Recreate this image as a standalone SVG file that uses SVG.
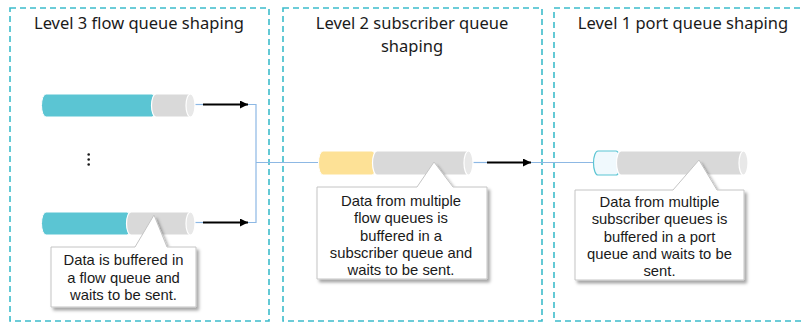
<svg xmlns="http://www.w3.org/2000/svg" width="804" height="322" viewBox="0 0 804 322">
  <style>
    .stage { fill: none; stroke: #3dbccb; stroke-width: 1.6; stroke-dasharray: 6 4; }
    .title { font-family: "Noto Sans", "Open Sans", sans-serif; font-size: 16.5px; fill: #1a1a1a; text-anchor: middle; }
    .note { font-family: "Liberation Sans", Arial, sans-serif; font-size: 14.8px; fill: #1a1a1a; text-anchor: middle; }
    .teal { fill: #5bc5d3; stroke: #ffffff; stroke-width: 1; }
    .grey { fill: #d9d9d9; stroke: #ffffff; stroke-width: 1.2; }
    .cap { fill: #e8e8e8; stroke: #ffffff; stroke-width: 1.2; }
    .yellow { fill: #fde196; stroke: #ffffff; stroke-width: 1; }
    .port { fill: #f0f9fd; stroke: #5bc5d3; stroke-width: 1.2; }
    .link { fill: none; stroke: #8db8e4; stroke-width: 1.2; }
    .arrow { fill: none; stroke: #000000; stroke-width: 1.8; }
    .callout { fill: #ffffff; stroke: #c4c4c4; stroke-width: 1; filter: url(#shadow); }
  </style>
  <defs>
    <marker id="head" markerUnits="userSpaceOnUse" markerWidth="9" markerHeight="8" refX="8" refY="4" orient="auto">
      <path d="M0,0 L8,4 L0,8 Z" fill="#000000"/>
    </marker>
    <filter id="shadow" x="-10%" y="-10%" width="125%" height="130%">
      <feDropShadow dx="2.5" dy="3" stdDeviation="1.5" flood-color="#000000" flood-opacity="0.35"/>
    </filter>
  </defs>

  <rect width="804" height="322" fill="#ffffff"/>

  <!-- shaping stages -->
  <g id="stage-level3">
    <rect class="stage" x="10" y="8" width="259" height="313"/>
    <text class="title" x="139" y="29">Level 3 flow queue shaping</text>
  </g>
  <g id="stage-level2">
    <rect class="stage" x="283" y="8" width="259" height="313"/>
    <text class="title" x="412" y="29">Level 2 subscriber queue</text>
    <text class="title" x="412" y="52">shaping</text>
  </g>
  <g id="stage-level1">
    <rect class="stage" x="554" y="8" width="262" height="313"/>
    <text class="title" x="683" y="29">Level 1 port queue shaping</text>
  </g>

  <!-- connectors -->
  <g id="connectors">
    <path class="link" d="M195,104.5 H203"/>
    <path class="link" d="M195,222.5 H203"/>
    <path class="link" d="M247,104.5 H256 V222.5 H247"/>
    <path class="link" d="M256,162.5 H318"/>
    <path class="link" d="M473,162.5 H487"/>
    <path class="link" d="M529,162.5 H594"/>
    <path class="arrow" d="M203,104.5 H248" marker-end="url(#head)"/>
    <path class="arrow" d="M203,222.5 H248" marker-end="url(#head)"/>
    <path class="arrow" d="M487,162.5 H531" marker-end="url(#head)"/>
  </g>

  <!-- flow queues -->
  <g id="flow-queue-1">
    <path class="teal" d="M46,94 H152 A4.5,11.5 0 0 1 152,117 H46 A4.5,11.5 0 0 1 46,94 Z"/>
    <path class="grey" d="M156,94 H190 A4.5,11.5 0 0 1 190,117 H156 A4.5,11.5 0 0 1 156,94 Z"/>
    <ellipse class="cap" cx="190.5" cy="105.5" rx="4.5" ry="11.5"/>
  </g>
  <g id="flow-queue-ellipsis">
    <circle cx="88.7" cy="154.5" r="1.3" fill="#1a1a1a"/>
    <circle cx="88.7" cy="159.5" r="1.3" fill="#1a1a1a"/>
    <circle cx="88.7" cy="164.5" r="1.3" fill="#1a1a1a"/>
  </g>
  <g id="flow-queue-n">
    <path class="teal" d="M46,212 H127 A4.5,11.5 0 0 1 127,235 H46 A4.5,11.5 0 0 1 46,212 Z"/>
    <path class="grey" d="M131,212 H190 A4.5,11.5 0 0 1 190,235 H131 A4.5,11.5 0 0 1 131,212 Z"/>
    <ellipse class="cap" cx="190.5" cy="223.5" rx="4.5" ry="11.5"/>
  </g>

  <!-- subscriber queue -->
  <g id="subscriber-queue">
    <path class="yellow" d="M323,151 H372 A4.5,12 0 0 1 372,175 H323 A4.5,12 0 0 1 323,151 Z"/>
    <path class="grey" d="M377,151 H468 A4.5,12 0 0 1 468,175 H377 A4.5,12 0 0 1 377,151 Z"/>
    <ellipse class="cap" cx="468.5" cy="163" rx="4.5" ry="12"/>
  </g>

  <!-- port queue -->
  <g id="port-queue">
    <path class="port" d="M598,151 H616 A4.5,12 0 0 1 616,175 H598 A4.5,12 0 0 1 598,151 Z"/>
    <path class="grey" d="M621,151 H743 A4.5,12 0 0 1 743,175 H621 A4.5,12 0 0 1 621,151 Z"/>
    <ellipse class="cap" cx="743.5" cy="163" rx="4.5" ry="12"/>
  </g>

  <!-- callouts -->
  <g id="note-flow">
    <path class="callout" d="M51,247 H135 L154,215 L167,247 H196 V307 H51 Z"/>
    <text class="note" x="123.5" y="265">Data is buffered in</text>
    <text class="note" x="123.5" y="282.5">a flow queue and</text>
    <text class="note" x="123.5" y="300">waits to be sent.</text>
  </g>
  <g id="note-subscriber">
    <path class="callout" d="M317,187 H417 L434,162 L453,187 H487 V279 H317 Z"/>
    <text class="note" x="401" y="206">Data from multiple</text>
    <text class="note" x="401" y="223.3">flow queues is</text>
    <text class="note" x="401" y="240.6">buffered in a</text>
    <text class="note" x="401" y="258">subscriber queue and</text>
    <text class="note" x="401" y="275.3">waits to be sent.</text>
  </g>
  <g id="note-port">
    <path class="callout" d="M575,190 H673 L699,160 L717,190 H744 V280 H575 Z"/>
    <text class="note" x="659.5" y="207">Data from multiple</text>
    <text class="note" x="659.5" y="224.3">subscriber queues is</text>
    <text class="note" x="659.5" y="241.6">buffered in a port</text>
    <text class="note" x="659.5" y="258.9">queue and waits to be</text>
    <text class="note" x="659.5" y="276.2">sent.</text>
  </g>
</svg>
